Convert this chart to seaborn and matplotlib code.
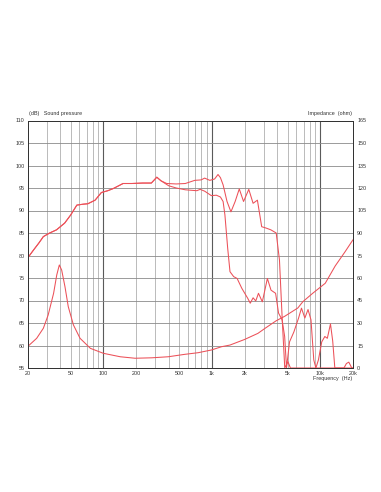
import numpy as np
import pandas as pd
import matplotlib
matplotlib.use("Agg")
import matplotlib.pyplot as plt
import seaborn as sns
from matplotlib.ticker import FixedLocator, NullFormatter, NullLocator

# ---- data ----
spl_on_freq = [20, 22.7, 25.5, 28, 32, 37, 44, 50, 57, 65, 72, 84, 96, 110, 124, 152, 183,
               230, 277, 311, 340, 384, 470, 570, 696, 797, 858, 958, 1060, 1140, 1200,
               1270, 1380, 1500, 1640, 1790, 1960, 2190, 2400, 2630, 2880, 3160, 3500,
               3920, 4200, 4450, 4700, 5030, 5300, 20000]
spl_on_db = [79.4, 81.2, 82.8, 84.2, 85.0, 85.7, 87.2, 89.0, 91.2, 91.4, 91.5, 92.3, 94.0,
             94.4, 94.9, 96.0, 96.0, 96.1, 96.1, 97.4, 96.6, 96.0, 95.9, 96.0, 96.7, 96.8,
             97.2, 96.7, 97.0, 98.0, 97.3, 95.7, 92.0, 89.7, 92.0, 94.8, 92.0, 94.7, 91.6,
             92.3, 86.4, 86.1, 85.7, 85.0, 79.0, 66.0, 55.0, 56.4, 55.0, 55.0]

spl_off_freq = [20, 22.7, 25.5, 28, 32, 37, 44, 50, 57, 65, 72, 84, 96, 110, 124, 152, 183,
                230, 277, 311, 340, 400, 470, 570, 727, 780, 858, 990, 1100, 1200, 1270,
                1320, 1400, 1470, 1590, 1710, 1890, 2140, 2260, 2400, 2540, 2690, 2920,
                3250, 3510, 3870, 4120, 4440, 4690, 4880, 5200, 5700, 6300, 6700, 7200,
                7700, 8200, 8700, 9100, 9600, 10300, 11000, 11600, 12400, 13000, 13600,
                16500, 17400, 18300, 19500, 20000]
spl_off_db = [79.4, 81.2, 82.8, 84.2, 85.0, 85.7, 87.2, 89.0, 91.2, 91.4, 91.5, 92.3, 94.0,
              94.4, 94.9, 96.0, 96.0, 96.1, 96.1, 97.4, 96.6, 95.5, 95.0, 94.6, 94.4, 94.7,
              94.3, 93.3, 93.4, 93.0, 92.0, 89.0, 81.6, 76.4, 75.3, 74.9, 72.7, 70.5, 69.4,
              70.6, 69.9, 71.6, 69.7, 74.9, 72.3, 71.6, 67.2, 65.7, 62.0, 55.0, 60.8, 63.0,
              66.1, 68.3, 66.1, 68.0, 65.7, 56.8, 55.0, 56.8, 60.8, 62.0, 61.6, 64.8, 61.0,
              55.0, 55.0, 56.0, 56.3, 55.0, 55.0]

imp_freq = [20, 24.3, 28, 31, 34.8, 37.2, 39.3, 41.3, 44.3, 47.5, 53, 61, 76, 100, 143, 196,
            280, 397, 562, 748, 990, 1230, 1470, 2000, 2660, 3100, 3920, 4700, 6200, 6900,
            8500, 11100, 13700, 16900, 20000]
imp_ohm = [14.2, 19.8, 26.5, 35.3, 49.8, 62.0, 68.7, 65.3, 54.2, 40.9, 28.7, 19.8, 13.1, 9.8,
           7.5, 6.5, 6.8, 7.5, 9.1, 10.2, 12.0, 14.2, 15.3, 19.0, 23.1, 26.5, 31.5, 34.5,
           40.0, 44.2, 49.8, 56.5, 68.0, 77.5, 85.5]

x_tick_vals = [20, 50, 100, 200, 500, 1000, 2000, 5000, 10000, 20000]
x_tick_labels = ["20", "50", "100", "200", "500", "1k", "2k", "5k", "10k", "20k"]
db_ticks = list(range(55, 111, 5))
ohm_ticks = list(range(0, 166, 15))

# ---- plot ----
sns.set_style("white")
plt.rcParams['font.family'] = ['Liberation Sans', 'DejaVu Sans']

W, H = 381, 492
fig = plt.figure(figsize=(W / 100, H / 100), dpi=100)
L, R, T, B = 27.5, 353, 120.5, 368
ax = fig.add_axes([L / W, 1 - B / H, (R - L) / W, (B - T) / H])

red = "#ec5058"
lw = 0.75

on_df = pd.DataFrame({"f": spl_on_freq, "db": spl_on_db})
off_df = pd.DataFrame({"f": spl_off_freq, "db": spl_off_db})
imp_df = pd.DataFrame({"f": imp_freq, "ohm": imp_ohm})

ax.set_xscale("log")
sns.lineplot(data=on_df, x="f", y="db", ax=ax, color=red, lw=lw, sort=False)
sns.lineplot(data=off_df, x="f", y="db", ax=ax, color=red, lw=lw, sort=False)
ax.set_xlim(20, 20000)
ax.set_ylim(55, 110)

ax2 = ax.twinx()
sns.lineplot(data=imp_df, x="f", y="ohm", ax=ax2, color=red, lw=lw, sort=False)
ax2.set_ylim(0, 165)
ax2.set_xlim(20, 20000)

# grid
minor_grid = []
for dec in [10, 100, 1000, 10000]:
    for m in range(2, 10):
        v = dec * m
        if 20 <= v <= 20000:
            minor_grid.append(v)
for v in minor_grid:
    ax.axvline(v, color="#b0b0b0", lw=0.6, zorder=0)
for v in [100, 1000, 10000]:
    ax.axvline(v, color="#5a5a5a", lw=0.8, zorder=0)
for v in db_ticks[1:-1]:
    ax.axhline(v, color="#8a8a8a", lw=0.6, zorder=0)

ax.xaxis.set_major_locator(FixedLocator(x_tick_vals))
ax.set_xticklabels(x_tick_labels)
ax.xaxis.set_minor_locator(NullLocator())
ax.xaxis.set_minor_formatter(NullFormatter())
ax.set_yticks(db_ticks)
ax2.set_yticks(ohm_ticks)

fs = 3.9
tc = "#333333"
ax.tick_params(axis="both", which="both", length=0, labelsize=fs, colors=tc, pad=2)
ax2.tick_params(axis="y", length=0, labelsize=fs, colors=tc, pad=3)
ax.set_xlabel("")
ax.set_ylabel("")
ax2.set_ylabel("")

for a in (ax, ax2):
    for s in a.spines.values():
        s.set_color("#333333")
        s.set_linewidth(0.7)

fig.text(L / W + 0.005, 1 - 113.5 / H, "(dB)   Sound pressure", fontsize=fs, color=tc,
         ha="left", va="center")
fig.text(R / W - 0.002, 1 - 113.5 / H, "Impedance  (ohm)", fontsize=fs, color=tc,
         ha="right", va="center")
fig.text(R / W - 0.002, 1 - 378.5 / H, "Frequency  (Hz)", fontsize=fs, color=tc,
         ha="right", va="center")

fig.savefig("out.png", dpi=100, facecolor="white")
